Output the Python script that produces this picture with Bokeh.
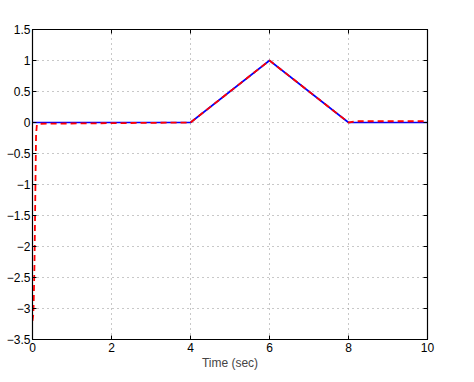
from bokeh.plotting import figure
from bokeh.models import Range1d, LinearAxis, FixedTicker
from bokeh.embed import file_html
from bokeh.resources import INLINE

# data
t_ref = [0, 4, 6, 8, 10]
y_ref = [0, 0, 1, 0, 0]
t_out = [0, 0.02, 0.03, 0.05, 0.065, 0.08, 0.09, 0.11, 0.2, 4, 6, 8, 8.2, 10]
y_out = [-3.2, -3.1, -2.9, -2.3, -1.5, -0.7, -0.2, -0.04, -0.02, 0, 1, 0, 0.02, 0.02]
x_ticks = [0, 2, 4, 6, 8, 10]
y_ticks = [-3.5, -3, -2.5, -2, -1.5, -1, -0.5, 0, 0.5, 1, 1.5]
y_labels = {v: (("−" if v < 0 else "") + ("%g" % abs(v))) for v in y_ticks}

p = figure(width=474, height=382, output_backend="svg", toolbar_location=None,
           x_range=Range1d(0, 10), y_range=Range1d(-3.5, 1.5),
           min_border_left=32, min_border_right=47, min_border_top=29, min_border_bottom=43)
p.outline_line_color = "black"
p.outline_line_width = 1.2
p.background_fill_color = "white"
p.border_fill_color = "white"

font = "Liberation Sans"
for ax in [p.xaxis[0], p.yaxis[0]]:
    ax.major_tick_in = 4
    ax.major_tick_out = 0
    ax.minor_tick_in = 0
    ax.minor_tick_out = 0
    ax.axis_line_color = "black"
    ax.major_label_text_font = font
    ax.major_label_text_font_size = "12px"
    ax.major_label_text_color = "black"
p.xaxis[0].ticker = FixedTicker(ticks=x_ticks)
p.yaxis[0].ticker = FixedTicker(ticks=y_ticks)
p.yaxis[0].major_label_overrides = y_labels
p.xaxis[0].axis_label = "Time (sec)"
p.xaxis[0].axis_label_text_font = font
p.xaxis[0].axis_label_text_font_size = "12px"
p.xaxis[0].axis_label_text_font_style = "normal"
p.xaxis[0].axis_label_standoff = 1
p.xaxis[0].major_label_standoff = 3
p.yaxis[0].major_label_standoff = 2

for loc, tk in [("right", y_ticks), ("above", x_ticks)]:
    ax = LinearAxis(ticker=FixedTicker(ticks=tk),
                    major_label_overrides={v: "" for v in tk},
                    major_tick_in=4, major_tick_out=0, minor_tick_in=0, minor_tick_out=0,
                    axis_line_color="black")
    p.add_layout(ax, loc)

p.xgrid.ticker = FixedTicker(ticks=x_ticks)
p.ygrid.ticker = FixedTicker(ticks=y_ticks)
p.grid.grid_line_color = "#909090"
p.grid.grid_line_dash = "1 4"
p.grid.grid_line_width = 1

p.line(t_ref, y_ref, line_color="#0000ff", line_width=1.6)
p.line(t_out, y_out, line_color="#ff0000", line_width=1.8, line_dash="6 4")

open("out.html", "w").write(file_html(p, INLINE))
